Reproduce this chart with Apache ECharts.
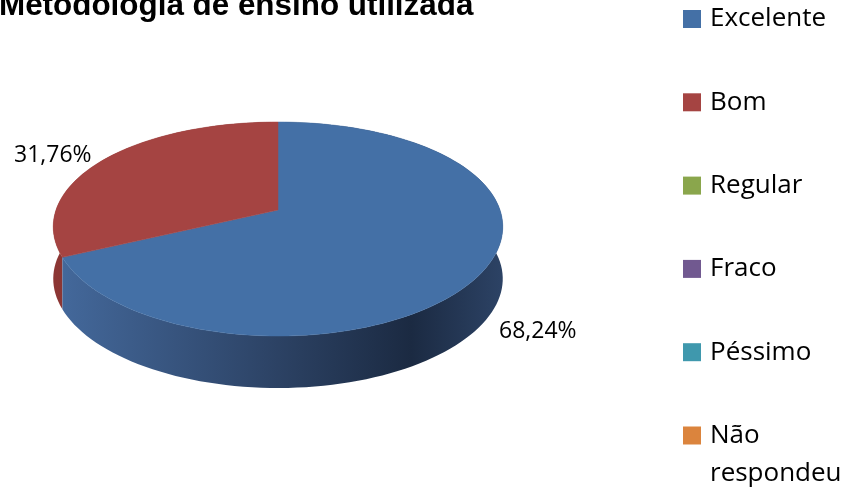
<!DOCTYPE html>
<html>
<head>
<meta charset="utf-8">
<script src="https://cdn.jsdelivr.net/npm/echarts@6/dist/echarts.min.js"></script>
<style>
  html, body { margin: 0; padding: 0; background: #fff; }
  #chart { width: 850px; height: 489px; }
</style>
</head>
<body>
<div id="chart"></div>
<script>
var categories = ['Excelente', 'Bom', 'Regular', 'Fraco', 'Péssimo', 'Não respondeu'];
var values = [68.24, 31.76, 0, 0, 0, 0];
var topColors = ['#4470a6', '#a54442', '#8aa64c', '#715990', '#3f98ad', '#db843d'];
var sideColors = [
    ['#44699c', '#2c4264', '#1b2a42'],
    ['#8c3634', '#6e2a28', '#5a2220'],
    ['#708a3e', '#5a6f32', '#4a5b29'],
    ['#5c4877', '#4a3a60', '#3b2e4d'],
    ['#337d8e', '#286472', '#20505b'],
    ['#b56d31', '#925827', '#774720']
];

// pie geometry (simple perspective)
var cx = 278, cy = 210, rx = 222, ry = 107, bow = 19, persp = 0.16, depth = 52;

var total = values.reduce(function (s, v) { return s + v; }, 0);
var starts = [];
var acc = 0;
values.forEach(function (v) { starts.push(acc / total * 360); acc += v; });

function pt(deg, r) {
    r = r || 1;
    var t = deg * Math.PI / 180;
    var u = Math.sin(t) * r, v = -Math.cos(t) * r;
    return [cx + rx * u * (1 + persp * v), cy + ry * v + bow * v * v];
}

function fmt(v) {
    return v.toFixed(2).replace('.', ',') + '%';
}

function makeSeries(idx) {
    return {
        type: 'custom',
        name: categories[idx],
        coordinateSystem: 'none',
        itemStyle: { color: topColors[idx] },
        data: [values[idx]],
        renderItem: function (params, api) {
            var val = values[idx];
            if (!val) return;
            var a0 = starts[idx], a1 = a0 + val / total * 360;
            var steps = Math.max(4, Math.ceil((a1 - a0) / 2));
            var topPts = [[cx, cy]];
            var arc = [];
            for (var i = 0; i <= steps; i++) {
                arc.push(pt(a0 + (a1 - a0) * i / steps));
            }
            topPts = topPts.concat(arc);
            var sidePts = arc.slice();
            for (var j = arc.length - 1; j >= 0; j--) {
                sidePts.push([arc[j][0], arc[j][1] + depth]);
            }
            var sc = sideColors[idx];
            var mid = (a0 + a1) / 2;
            var t = mid * Math.PI / 180;
            var v = -Math.cos(t);
            var lp = pt(mid, 1.3);
            var ly = cy + ry * v * 1.1 + bow * v * v + (v > 0 ? depth : 4);
            return {
                type: 'group',
                children: [{
                    type: 'polygon',
                    z2: idx === 0 ? 2 : 1,
                    shape: { points: sidePts },
                    style: {
                        fill: new echarts.graphic.LinearGradient(cx - rx, 0, cx + rx, 0, [
                            { offset: 0, color: sc[0] },
                            { offset: 0.5, color: sc[1] },
                            { offset: 0.8, color: sc[2] },
                            { offset: 1, color: sc[1] }
                        ], true),
                        stroke: null
                    }
                }, {
                    type: 'polygon',
                    z2: 10,
                    shape: { points: topPts },
                    style: { fill: topColors[idx], stroke: topColors[idx], lineWidth: 0.5 }
                }, {
                    type: 'text',
                    z2: 20,
                    style: {
                        text: fmt(val),
                        x: lp[0] - 10,
                        y: ly,
                        align: 'center',
                        verticalAlign: 'middle',
                        fill: '#000',
                        font: '23px "Open Sans"'
                    }
                }]
            };
        }
    };
}

var myChart = echarts.init(document.getElementById('chart'));

var option = {
    backgroundColor: '#fff',
    animation: false,
    title: {
        text: 'Metodologia de ensino utilizada',
        left: -1,
        top: -9,
        padding: 0,
        textStyle: {
            fontFamily: 'Liberation Sans',
            fontWeight: 'bold',
            fontSize: 31.4,
            color: '#000'
        }
    },
    legend: {
        orient: 'vertical',
        left: 683,
        top: 6,
        padding: 0,
        itemWidth: 18,
        itemHeight: 18,
        itemGap: 57.3,
        icon: 'rect',
        selectedMode: false,
        data: categories,
        formatter: function (name) {
            return name === 'Não respondeu' ? 'Não' : name;
        },
        textStyle: {
            fontFamily: 'Open Sans',
            fontSize: 26,
            color: '#000',
            padding: [0, 0, 0, 4]
        }
    },
    graphic: [{
        type: 'text',
        x: 710,
        y: 474,
        style: {
            text: 'respondeu',
            font: '26px "Open Sans"',
            fill: '#000',
            verticalAlign: 'middle'
        }
    }],
    series: categories.map(function (c, i) { return makeSeries(i); })
};

myChart.setOption(option);
</script>
</body>
</html>
